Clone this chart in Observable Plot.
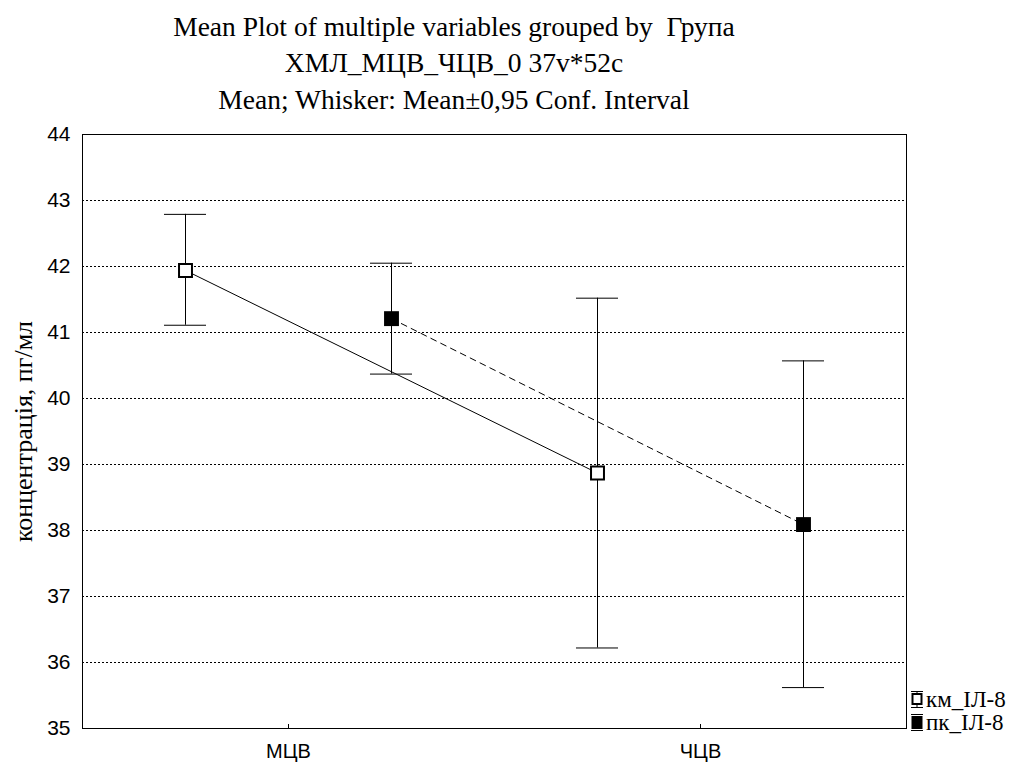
<!DOCTYPE html>
<html>
<head>
<meta charset="utf-8">
<script src="https://cdn.jsdelivr.net/npm/d3@7"></script>
<script src="https://cdn.jsdelivr.net/npm/@observablehq/plot@0.6"></script>
<style>
  html, body { margin: 0; padding: 0; background: #fff; }
  #wrap { position: relative; width: 1016px; height: 762px; overflow: hidden; background: #fff; }
  #chart { position: absolute; left: 0; top: 0; z-index: 1; }
  .title { position: absolute; left: 0; width: 908px; text-align: center; z-index: 2;
           font-family: "Liberation Serif", "Times New Roman", serif; font-size: 27.5px;
           line-height: 27.5px; color: #000; white-space: pre; }
  .leg { position: absolute; left: 911px; z-index: 2; font-family: "Liberation Serif", serif;
         font-size: 23px; line-height: 23px; white-space: pre; display: flex; align-items: center; }
  .leg svg { margin-right: 3px; }
</style>
</head>
<body>
<div id="wrap">
  <div id="chart"></div>
  <div class="title" style="top:13px">Mean Plot of multiple variables grouped by  Група</div>
  <div class="title" style="top:49px">ХМЛ_МЦВ_ЧЦВ_0 37v*52c</div>
  <div class="title" style="top:86px">Mean; Whisker: Mean±0,95 Conf. Interval</div>
  <div id="legend"></div>
</div>
<script>
// Data
const categories = ["МЦВ", "ЧЦВ"];
const seriesNames = ["км_ІЛ-8", "пк_ІЛ-8"];
const kmMean = [41.94, 38.87];
const kmLow  = [41.11, 36.22];
const kmHigh = [42.79, 41.52];
const pkMean = [41.21, 38.09];
const pkLow  = [40.37, 35.62];
const pkHigh = [42.05, 40.57];
const yTicks = [35, 36, 37, 38, 39, 40, 41, 42, 43, 44];
const gridTicks = [36, 37, 38, 39, 40, 41, 42, 43];

const seriesOffset = {"км_ІЛ-8": 0.25, "пк_ІЛ-8": 0.75};
const rows = [];
categories.forEach((c, i) => {
  rows.push({cat: c, series: seriesNames[0], x: i + seriesOffset[seriesNames[0]], mean: kmMean[i], lo: kmLow[i], hi: kmHigh[i]});
  rows.push({cat: c, series: seriesNames[1], x: i + seriesOffset[seriesNames[1]], mean: pkMean[i], lo: pkLow[i], hi: pkHigh[i]});
});
const km = rows.filter(d => d.series === seriesNames[0]);
const pk = rows.filter(d => d.series === seriesNames[1]);
const capHalf = 0.051;
const catPos = categories.map((c, i) => i + 0.5);

const plot = Plot.plot({
  width: 1016,
  height: 762,
  marginLeft: 82,
  marginRight: 110,
  marginTop: 134,
  marginBottom: 34,
  style: {fontFamily: "'Liberation Sans', Arial, sans-serif", color: "#000", background: "transparent"},
  x: {domain: [0, 2], axis: null},
  y: {domain: [35, 44], axis: null},
  marks: [
    Plot.ruleY(gridTicks, {stroke: "#000", strokeWidth: 1, strokeDasharray: "2,2"}),
    Plot.frame({stroke: "#000", strokeWidth: 1}),
    Plot.axisY(yTicks, {anchor: "left", tickSize: 0, tickPadding: 12, fontSize: 21, label: null, tickFormat: d => String(d)}),
    Plot.axisX(catPos, {anchor: "bottom", tickSize: -4, tickPadding: 19, fontSize: 20, label: null, tickFormat: (d, i) => categories[i]}),
    Plot.text(["концентрація, пг/мл"], {frameAnchor: "left", dx: -59, rotate: -90, fontSize: 26, fontFamily: "'Liberation Serif', serif", textAnchor: "middle", fill: "#000"}),
    Plot.line(km, {x: "x", y: "mean", stroke: "#000", strokeWidth: 1}),
    Plot.line(pk, {x: "x", y: "mean", stroke: "#000", strokeWidth: 1, strokeDasharray: "6,5"}),
    Plot.ruleX(rows, {x: "x", y1: "lo", y2: "hi", stroke: "#000", strokeWidth: 1}),
    Plot.ruleY(rows, {y: "lo", x1: d => d.x - capHalf, x2: d => d.x + capHalf, stroke: "#000", strokeWidth: 1}),
    Plot.ruleY(rows, {y: "hi", x1: d => d.x - capHalf, x2: d => d.x + capHalf, stroke: "#000", strokeWidth: 1}),
    Plot.dot(km, {x: "x", y: "mean", symbol: "square", r: 7.3, fill: "#fff", stroke: "#000", strokeWidth: 2}),
    Plot.dot(pk, {x: "x", y: "mean", symbol: "square", r: 8.4, fill: "#000", stroke: "none"})
  ]
});
document.getElementById("chart").appendChild(plot);

// Legend
const leg = document.getElementById("legend");
const icons = [
  `<svg width="12" height="19" viewBox="0 0 12 19"><line x1="0" y1="1.5" x2="12" y2="1.5" stroke="#000"/><line x1="0" y1="17.5" x2="12" y2="17.5" stroke="#000"/><line x1="6" y1="1.5" x2="6" y2="17.5" stroke="#000"/><rect x="1.5" y="4" width="9" height="10" fill="#fff" stroke="#000" stroke-width="2"/></svg>`,
  `<svg width="12" height="19" viewBox="0 0 12 19"><line x1="0" y1="1.5" x2="12" y2="1.5" stroke="#000"/><line x1="0" y1="17.5" x2="12" y2="17.5" stroke="#000"/><rect x="0.5" y="3" width="11" height="13" fill="#000"/></svg>`
];
const legTops = [688, 711];
seriesNames.forEach((s, i) => {
  const d = document.createElement("div");
  d.className = "leg";
  d.style.top = legTops[i] + "px";
  d.innerHTML = icons[i] + `<span>${s}</span>`;
  leg.appendChild(d);
});
</script>
</body>
</html>
